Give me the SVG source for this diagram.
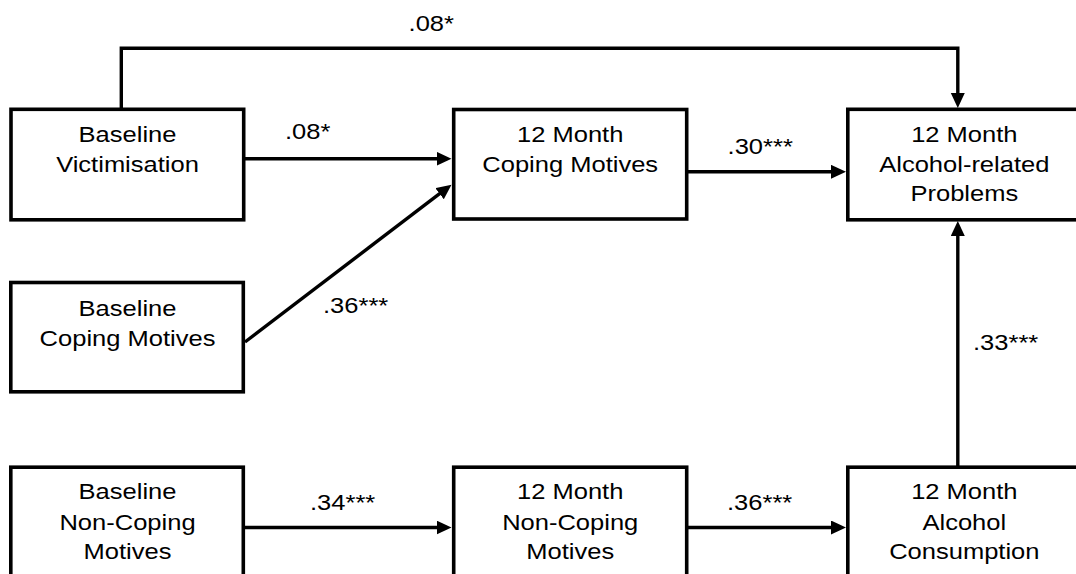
<svg xmlns="http://www.w3.org/2000/svg" width="1076" height="574" viewBox="0 0 1076 574">
<style>
.box{fill:#fff;stroke:#000;stroke-width:3.6}
.t{font-family:"Liberation Sans",Arial,sans-serif;font-size:22px;fill:#000;text-anchor:middle}
.l{font-family:"Liberation Sans",Arial,sans-serif;font-size:22px;fill:#000;text-anchor:start}
.c{fill:none;stroke:#000;stroke-width:3.4}
</style>
<defs>
<marker id="ah" markerUnits="userSpaceOnUse" markerWidth="16" markerHeight="15" refX="10" refY="7" orient="auto">
<path d="M0,0 L15,7 L0,14 z" fill="#000"/>
</marker>
</defs>
<rect width="1076" height="574" fill="#fff"/>
<g id="connectors">
<path class="c" d="M121.3,109 V48.3 H957.8 V103" marker-end="url(#ah)"/>
<path class="c" d="M245,158.7 H446.5" marker-end="url(#ah)"/>
<path class="c" d="M245,342 L447.5,187.7" marker-end="url(#ah)"/>
<path class="c" d="M688,171.8 H841" marker-end="url(#ah)"/>
<path class="c" d="M957.8,467 V226" marker-end="url(#ah)"/>
<path class="c" d="M245,527.5 H446.5" marker-end="url(#ah)"/>
<path class="c" d="M688,527.5 H841" marker-end="url(#ah)"/>
<text class="l" transform="translate(408.6 0) scale(1.16 1)" x="0" y="31.5">.08*</text>
<text class="l" transform="translate(285 0) scale(1.16 1)" x="0" y="139.5">.08*</text>
<text class="l" transform="translate(727.6 0) scale(1.16 1)" x="0" y="154.5">.30***</text>
<text class="l" transform="translate(323 0) scale(1.16 1)" x="0" y="313.5">.36***</text>
<text class="l" transform="translate(973 0) scale(1.16 1)" x="0" y="350">.33***</text>
<text class="l" transform="translate(310 0) scale(1.16 1)" x="0" y="510">.34***</text>
<text class="l" transform="translate(727 0) scale(1.16 1)" x="0" y="510.5">.36***</text>
</g>
<g id="baseline-victimisation">
<rect class="box" x="11" y="109.3" width="232.7" height="110.5"/>
<text class="t" transform="translate(127.5 0) scale(1.16 1)"><tspan x="0" y="142.5">Baseline</tspan><tspan x="0" y="172">Victimisation</tspan></text>
</g>
<g id="m12-coping-motives">
<rect class="box" x="453.7" y="109.5" width="233" height="109.5"/>
<text class="t" transform="translate(570.2 0) scale(1.16 1)"><tspan x="0" y="142.5">12 Month</tspan><tspan x="0" y="172">Coping Motives</tspan></text>
</g>
<g id="m12-alcohol-problems">
<rect class="box" x="847.8" y="109.3" width="233" height="110.5"/>
<text class="t" transform="translate(964.3 0) scale(1.16 1)"><tspan x="0" y="142.5">12 Month</tspan><tspan x="0" y="172">Alcohol-related</tspan><tspan x="0" y="201.5">Problems</tspan></text>
</g>
<g id="baseline-coping-motives">
<rect class="box" x="10.8" y="282.5" width="232.5" height="109.3"/>
<text class="t" transform="translate(127.5 0) scale(1.16 1)"><tspan x="0" y="316.5">Baseline</tspan><tspan x="0" y="346">Coping Motives</tspan></text>
</g>
<g id="baseline-noncoping-motives">
<rect class="box" x="10.8" y="467.2" width="232.5" height="110.5"/>
<text class="t" transform="translate(127.5 0) scale(1.16 1)"><tspan x="0" y="499.5">Baseline</tspan><tspan x="0" y="530">Non-Coping</tspan><tspan x="0" y="559">Motives</tspan></text>
</g>
<g id="m12-noncoping-motives">
<rect class="box" x="453.7" y="467.2" width="233" height="110.5"/>
<text class="t" transform="translate(570.2 0) scale(1.16 1)"><tspan x="0" y="499.5">12 Month</tspan><tspan x="0" y="530">Non-Coping</tspan><tspan x="0" y="559">Motives</tspan></text>
</g>
<g id="m12-alcohol-consumption">
<rect class="box" x="847.8" y="467.2" width="233" height="110.5"/>
<text class="t" transform="translate(964.3 0) scale(1.16 1)"><tspan x="0" y="499.5">12 Month</tspan><tspan x="0" y="530">Alcohol</tspan><tspan x="0" y="559">Consumption</tspan></text>
</g>
</svg>
